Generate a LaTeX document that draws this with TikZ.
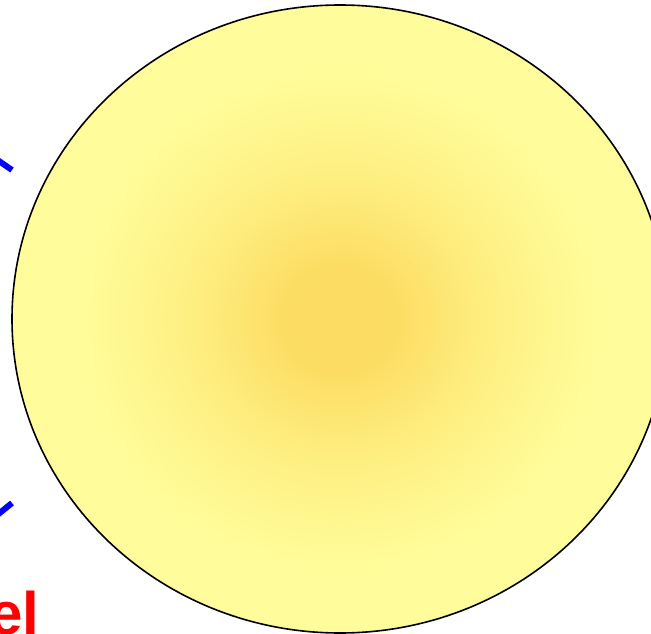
\documentclass[tikz,border=0pt]{standalone}
\usepackage{fontspec}
\setmainfont{Liberation Sans}
\definecolor{SUNcore}{RGB}{252,220,98}
\definecolor{SUNmid}{RGB}{254,238,128}
\definecolor{SUNrim}{RGB}{255,253,155}
\definecolor{ARRblue}{RGB}{0,0,255}
\definecolor{LBLred}{RGB}{255,0,0}
\usetikzlibrary{shapes.geometric, positioning}
\pgfdeclareradialshading{sunglow}{\pgfpoint{0bp}{0bp}}{%
   color(0bp)=(SUNcore); color(4bp)=(SUNcore); color(11bp)=(SUNmid); color(20bp)=(SUNrim); color(50bp)=(SUNrim)}

\begin{document}
\begin{tikzpicture}[x=1pt, y=-1pt]
            \useasboundingbox (0,0) rectangle (651,634);
            \clip (0,0) rectangle (651,634);
            % the big glowing disc
            \node[ellipse, draw, line width=1.6pt, shading=sunglow, inner sep=0pt,
               minimum width=656pt, minimum height=628pt] (sun) at (340,319) {};
            % blue pointers coming in from the left
            \coordinate (pupA) at (-20,148);
            \coordinate (pupB) at (12,170);
            \coordinate (plowA) at (-20,529);
            \coordinate (plowB) at (12,503);
            \draw[ARRblue, line width=6pt] (pupA) -- (pupB);
            \draw[ARRblue, line width=6pt] (plowA) -- (plowB);
            % red label, cut by the page edge
            \node[anchor=base west, inner sep=0pt, text=LBLred,
               font=\fontsize{60}{60}\selectfont\bfseries] (lbl) at (-11,634) {el};
         \end{tikzpicture}
\end{document}
